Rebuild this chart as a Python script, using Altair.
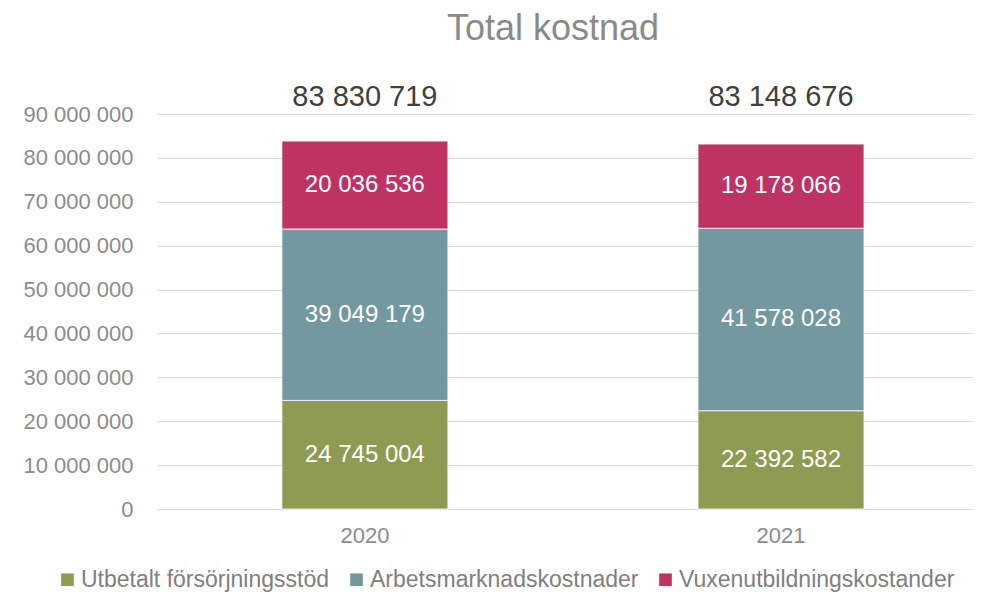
import altair as alt
import pandas as pd

years = ["2020", "2021"]
series = ["Utbetalt försörjningsstöd", "Arbetsmarknadskostnader", "Vuxenutbildningskostander"]
utbetalt = [24745004, 22392582]
arbetsmarknad = [39049179, 41578028]
vuxen = [20036536, 19178066]
colors = ["#8F9A53", "#7398A0", "#BE3264"]

rows = []
for i, y in enumerate(years):
    for k, (name, vals) in enumerate(zip(series, [utbetalt, arbetsmarknad, vuxen])):
        rows.append({"year": y, "series": name, "idx": k, "value": vals[i]})
df = pd.DataFrame(rows)

fmt = "replace(format(datum.value, ','), /,/g, ' ')"

x = alt.X("year:N", title=None,
          scale=alt.Scale(paddingInner=0.601, paddingOuter=0.281, align=0.534),
          axis=alt.Axis(labelAngle=0, labelFontSize=22, labelColor="#8c8c8c",
                        labelPadding=16, ticks=False, domainColor="#d9d9d9",
                        labelFont="Liberation Sans"))

base = alt.Chart(df)

bars = base.mark_bar(stroke="white", strokeWidth=0.8).encode(
    x=x,
    y=alt.Y("value:Q", stack="zero", title=None,
            scale=alt.Scale(domain=[0, 90000000], nice=False),
            axis=alt.Axis(values=list(range(0, 90000001, 10000000)),
                          labelExpr="replace(format(datum.value, ','), /,/g, ' ')",
                          labelFontSize=22, labelColor="#8c8c8c", labelPadding=24,
                          ticks=False, domain=False, gridColor="#d9d9d9",
                          labelFont="Liberation Sans")),
    color=alt.Color("series:N", scale=alt.Scale(domain=series, range=colors),
                    legend=alt.Legend(title=None, orient="none", direction="horizontal",
                                      legendX=-101, legendY=454, symbolType="square",
                                      symbolSize=160, symbolStrokeWidth=0,
                                      labelFontSize=23, labelColor="#808080",
                                      labelFont="Liberation Sans", labelLimit=500,
                                      labelOffset=2, columnPadding=15, padding=0)),
    order=alt.Order("idx:Q", sort="ascending"),
)

seg_labels = base.transform_stack(
    stack="value", groupby=["year"], as_=["v0", "v1"],
    sort=[alt.SortField("idx", order="ascending")]
).transform_calculate(
    mid="(datum.v0 + datum.v1) / 2", label=fmt
).mark_text(color="white", fontSize=24, font="Liberation Sans", baseline="middle").encode(
    x=alt.X("year:N"),
    y=alt.Y("mid:Q"),
    text="label:N",
)

totals = base.transform_aggregate(
    value="sum(value)", groupby=["year"]
).transform_calculate(label=fmt).mark_text(
    color="#404040", fontSize=29, font="Liberation Sans", baseline="middle"
).encode(
    x=alt.X("year:N"),
    y=alt.value(-17),
    text="label:N",
)

chart = alt.layer(bars, seg_labels, totals).properties(
    width=816, height=395,
    padding={"left": 149, "top": 106, "right": 0, "bottom": 84},
    autosize="none",
    title=alt.TitleParams("Total kostnad", fontSize=36, color="#8a8a8a",
                          font="Liberation Sans", fontWeight="normal",
                          anchor="middle", frame="group", dx=-12, offset=35),
).configure_view(stroke=None)

chart.save("out.html", embed_options={"renderer": "svg", "actions": False})
